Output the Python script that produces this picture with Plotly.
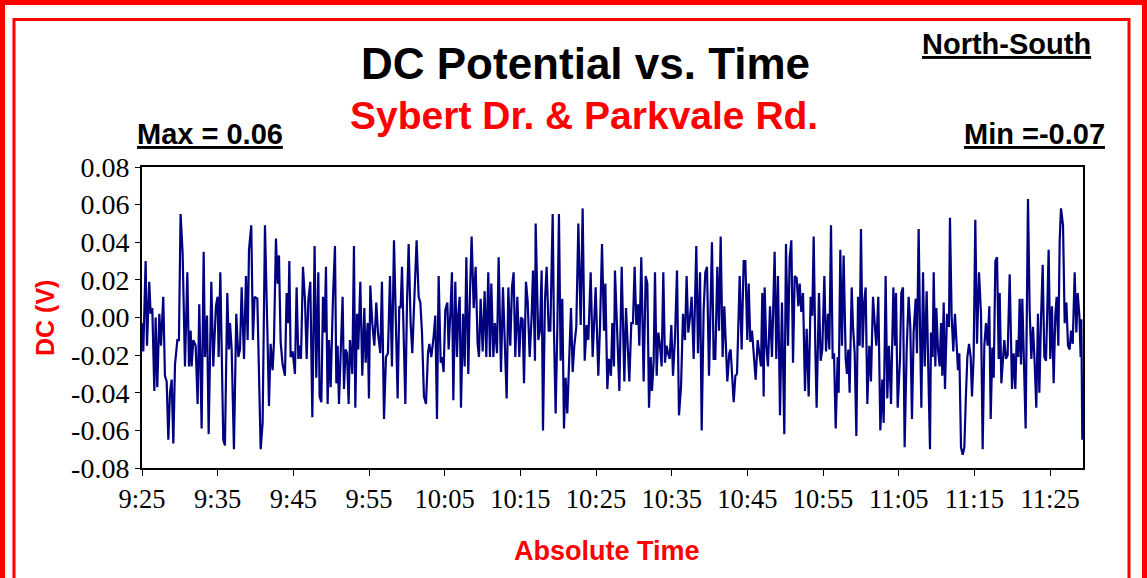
import plotly.graph_objects as go

# ---------------- data ----------------
x_tick_labels = ["9:25", "9:35", "9:45", "9:55", "10:05", "10:15", "10:25",
                 "10:35", "10:45", "10:55", "11:05", "11:15", "11:25"]
y_tick_values = [-0.08, -0.06, -0.04, -0.02, 0.00, 0.02, 0.04, 0.06, 0.08]
y_tick_labels = ["-0.08", "-0.06", "-0.04", "-0.02", "0.00", "0.02", "0.04", "0.06", "0.08"]

# time of each reading, minutes after 9:25
minutes_after_0925 = [
    0.04, 0.17, 0.48, 0.66, 0.96, 1.14, 1.36, 1.63, 1.80, 2.02, 2.29, 2.51, 2.81, 3.03, 3.26, 3.48, 3.70, 3.92, 4.14, 4.36, 4.67, 4.88,
    5.10, 5.37, 5.68, 5.99, 6.21, 6.43, 6.56, 6.78, 7.09, 7.35, 7.57, 7.88, 8.15, 8.32, 8.59, 8.81, 9.16, 9.42, 9.77, 9.99, 10.13, 10.35,
    10.74, 10.96, 11.27, 11.49, 11.63, 11.85, 12.15, 12.46, 12.73, 12.95, 13.17, 13.48, 13.74, 13.96, 14.14, 14.44, 14.66, 14.88, 15.24, 15.46, 15.68,
    15.94, 16.25, 16.56, 16.78, 17.00, 17.26, 17.44, 17.70, 17.92, 18.10, 18.32, 18.58, 18.89, 19.11, 19.33, 19.47, 19.64, 19.91, 20.21, 20.43, 20.66,
    20.83, 21.01, 21.27, 21.54, 21.76, 21.98, 22.24, 22.51, 22.81, 23.03, 23.30, 23.47, 23.70, 23.92, 24.14, 24.31, 24.53, 24.71, 24.93, 25.24, 25.50, 25.68, 25.85,
    26.03, 26.29, 26.51, 26.69, 26.91, 27.09, 27.31, 27.48, 27.79, 28.01, 28.19, 28.41, 28.58, 28.85, 29.11, 29.38, 29.55, 29.82, 29.99, 30.17, 30.43, 30.70, 30.96, 31.18,
    31.49, 31.71, 31.98, 32.24, 32.50, 32.77, 33.03, 33.30, 33.56, 33.78, 34.00, 34.18, 34.36, 34.58, 34.80, 35.02, 35.24, 35.50, 35.72, 35.98, 36.29, 36.56,
    36.78, 37.00, 37.26, 37.53, 37.79, 37.97, 38.23, 38.54, 38.76, 38.98, 39.20, 39.47, 39.64, 39.86, 40.08, 40.35, 40.52, 40.79, 40.96, 41.14, 41.40, 41.62,
    41.80, 41.98, 42.15, 42.42, 42.64, 42.86, 43.12, 43.34, 43.56, 43.83, 44.09, 44.35, 44.53, 44.75, 45.02, 45.28, 45.50, 45.76, 45.98, 46.16, 46.43, 46.64, 46.91,
    47.13, 47.44, 47.70, 47.92, 48.19, 48.41, 48.67, 48.89, 49.11, 49.33, 49.60, 49.86, 50.08, 50.30, 50.48, 50.74, 50.96, 51.23, 51.49, 51.67, 51.93, 52.02,
    52.37, 52.59, 52.81, 52.99, 53.25, 53.47, 53.74, 53.96, 54.27, 54.44, 54.66, 54.88, 55.10, 55.32, 55.54, 55.76, 55.98, 56.20, 56.47, 56.69, 56.91, 57.13,
    57.39, 57.66, 57.97, 58.23, 58.50, 58.76, 58.98, 59.29, 59.55, 59.95, 60.30, 60.52, 60.79, 61.05, 61.23, 61.49, 61.71, 61.97, 62.15, 62.37, 62.50,
    62.86, 63.08, 63.39, 63.74, 63.96, 64.18, 64.40, 64.66, 64.88, 65.10, 65.32, 65.54, 65.72, 65.98, 66.29, 66.56, 66.78, 67.00, 67.22, 67.39, 67.61, 67.79,
    68.01, 68.23, 68.45, 68.67, 68.89, 69.11, 69.33, 69.51, 69.73, 69.95, 70.17, 70.43, 70.70, 70.96, 71.23, 71.49, 71.75, 71.97, 72.19, 72.46, 72.63, 72.90,
    73.25, 73.47, 73.74, 73.96, 74.22, 74.44, 74.66, 74.93, 75.15, 75.32, 75.54, 75.76, 76.03, 76.25, 76.47, 76.73, 76.95, 77.17, 77.35, 77.61, 77.79, 77.97, 78.19,
    78.41, 78.63, 78.80, 78.98, 79.24, 79.51, 79.73, 79.99, 80.17, 80.39, 80.61, 80.83, 81.09, 81.36, 81.62, 81.80, 81.97, 82.15, 82.28, 82.50, 82.72, 82.99, 83.25,
    83.60, 83.82, 84.04, 84.31, 84.57, 84.88, 85.10, 85.37, 85.59, 85.81, 86.03, 86.25, 86.51, 86.73, 86.91, 87.13, 87.35, 87.61, 87.83, 88.10, 88.36, 88.58, 88.76,
    88.98, 89.15, 89.46, 89.68, 89.90, 90.17, 90.39, 90.65, 90.83, 91.05, 91.27, 91.45, 91.67, 91.93, 92.06, 92.28, 92.50, 92.72, 92.99, 93.16, 93.34, 93.51, 93.78,
    93.96, 94.18, 94.40, 94.62, 94.84, 95.01, 95.23, 95.45, 95.63, 95.85, 96.11, 96.33, 96.60, 96.82, 97.04, 97.30, 97.57, 97.83, 98.01, 98.27, 98.49, 98.71, 98.98, 99.29,
    99.51, 99.64, 99.86, 100.17, 100.34, 100.56, 100.78, 101.05, 101.31, 101.53, 101.75, 101.97, 102.24, 102.41, 102.63, 102.85, 102.99, 103.21, 103.43, 103.69, 103.91, 104.13, 104.26,
    104.48, 104.62, 104.84, 104.97, 105.19, 105.41, 105.59, 105.76, 105.94, 106.11, 106.38, 106.64, 106.77, 106.99, 107.21, 107.43, 107.61, 107.83, 108.01, 108.23, 108.45, 108.67, 108.89, 109.07, 109.29,
    109.51, 109.68, 109.90, 110.12, 110.34, 110.61, 110.87, 111.09, 111.31, 111.53, 111.75, 111.97, 112.15, 112.37, 112.55, 112.77, 112.99, 113.21, 113.34, 113.56, 113.78, 113.95, 114.17, 114.39, 114.66,
    114.97, 115.19, 115.41, 115.58, 115.80, 115.98, 116.16, 116.33, 116.55, 116.77, 117.08, 117.30, 117.52, 117.74, 117.96, 118.18, 118.40, 118.58, 118.80, 119.02, 119.24, 119.46, 119.64,
    119.81, 120.03, 120.25, 120.47, 120.69, 120.87, 121.09, 121.27, 121.44, 121.71, 121.93, 122.15, 122.37, 122.59, 122.77, 122.99, 123.25, 123.47, 123.65, 123.87, 124.04, 124.13, 124.26,
]

# DC potential of each reading, volts
dc_volts = [
    -0.003, -0.018, 0.030, -0.015, 0.019, 0.002, 0.005, -0.039, 0.000, -0.037, 0.002, -0.015, 0.011, -0.031, -0.034, -0.065, -0.040, -0.033, -0.067, -0.025, -0.012, -0.012,
    0.055, 0.034, -0.026, 0.024, -0.026, -0.007, -0.026, -0.012, -0.015, -0.046, 0.007, -0.059, 0.035, -0.021, 0.001, -0.062, 0.019, -0.026, 0.006, 0.011, -0.021, 0.024,
    -0.065, -0.068, 0.013, -0.017, -0.003, -0.017, -0.070, 0.002, -0.021, -0.017, 0.016, -0.022, 0.022, -0.012, 0.036, 0.049, -0.012, 0.011, 0.010, -0.024, -0.070,
    -0.056, 0.049, -0.006, -0.047, -0.014, -0.028, -0.013, 0.042, 0.018, 0.033, -0.013, -0.025, -0.031, 0.013, -0.003, 0.030, -0.021, -0.018, -0.030, 0.016, -0.022,
    -0.015, -0.022, 0.027, 0.009, -0.022, 0.009, 0.019, -0.053, 0.038, -0.032, 0.024, -0.042, -0.045, 0.011, -0.008, 0.027, -0.046, -0.012, -0.037, 0.011, 0.038, -0.035, -0.015,
    -0.046, -0.012, 0.011, -0.038, -0.017, -0.019, -0.046, -0.012, -0.030, 0.038, -0.048, 0.002, -0.017, 0.019, -0.031, 0.005, -0.024, -0.003, -0.043, 0.017, -0.003, -0.015, 0.008, -0.008,
    -0.019, 0.019, -0.054, -0.021, -0.019, 0.022, -0.026, 0.041, -0.003, -0.043, 0.006, 0.005, 0.027, -0.008, -0.046, 0.008, 0.039, -0.003, -0.019, 0.009, 0.041, 0.011,
    0.008, -0.008, -0.042, -0.046, -0.019, -0.014, -0.021, -0.010, 0.001, -0.054, 0.022, -0.024, -0.021, -0.029, 0.004, 0.008, -0.017, 0.006, 0.024, -0.044, 0.019, -0.021,
    0.002, 0.011, -0.048, 0.002, -0.026, 0.032, -0.030, 0.013, 0.043, 0.005, 0.027, -0.014, -0.021, 0.010, -0.018, 0.014, -0.021, 0.024, -0.021, 0.018, -0.021, -0.003, -0.019,
    0.032, -0.029, 0.016, -0.012, -0.043, 0.016, -0.015, 0.016, 0.024, -0.021, 0.011, -0.021, 0.000, -0.001, -0.035, 0.019, 0.009, -0.021, 0.001, 0.025, -0.023, 0.050,
    -0.012, -0.007, 0.025, -0.060, 0.009, 0.027, -0.007, -0.007, 0.055, -0.007, -0.051, -0.007, 0.055, -0.023, 0.010, -0.059, -0.032, -0.051, -0.021, 0.005, -0.029, -0.015,
    -0.005, 0.050, -0.004, 0.058, -0.023, -0.004, -0.012, 0.024, -0.021, 0.016, -0.031, -0.005, 0.039, -0.007, 0.018, -0.038, -0.022, -0.031, -0.003, -0.026, 0.025,
    -0.012, -0.039, 0.027, -0.034, 0.005, -0.019, -0.034, -0.003, -0.003, 0.027, -0.004, 0.007, -0.015, 0.032, -0.034, 0.022, 0.018, -0.048, -0.021, -0.039, -0.024, 0.024,
    -0.031, -0.008, -0.015, -0.026, 0.024, -0.024, -0.015, -0.019, -0.022, -0.004, -0.031, -0.011, 0.025, -0.052, -0.037, 0.002, -0.012, 0.022, -0.008, 0.002, 0.011, -0.022,
    0.038, -0.019, 0.024, -0.060, 0.004, 0.024, 0.027, -0.031, 0.013, 0.040, -0.022, -0.022, 0.027, -0.007, 0.043, -0.021, 0.006, -0.015, -0.034, -0.019, -0.017, -0.030, -0.045,
    -0.031, -0.030, -0.005, 0.022, -0.017, 0.030, 0.030, -0.012, 0.018, -0.013, -0.007, -0.021, -0.033, -0.012, -0.021, -0.026, 0.013, -0.042, 0.016, -0.015, -0.026, 0.006, -0.021,
    0.035, -0.022, 0.022, -0.052, 0.008, -0.062, 0.039, -0.015, 0.032, 0.041, -0.024, 0.022, 0.021, 0.006, 0.018, 0.003, 0.013, -0.039, -0.006, -0.042, 0.011, 0.001, 0.043,
    -0.017, -0.048, 0.013, -0.023, -0.017, 0.022, -0.018, 0.002, -0.017, 0.049, -0.022, -0.019, -0.059, -0.021, -0.040, 0.036, -0.015, 0.033, -0.022, -0.030, -0.017, -0.040, 0.016,
    -0.005, -0.019, -0.063, 0.011, -0.015, 0.047, -0.016, 0.009, 0.016, -0.046, -0.015, -0.034, 0.011, -0.003, -0.015, 0.011, -0.060, -0.033, -0.056, 0.022, -0.043, -0.015, -0.046, 0.016,
    -0.015, 0.013, -0.048, -0.022, 0.013, 0.016, -0.069, -0.017, 0.011, -0.005, -0.054, -0.008, 0.010, -0.019, 0.047, -0.015, -0.048, 0.024, -0.026, 0.014, -0.038, -0.070, -0.008,
    -0.021, 0.024, -0.026, 0.005, -0.017, -0.026, -0.003, -0.031, 0.008, -0.038, 0.002, -0.005, 0.053, 0.001, -0.018, 0.002, -0.015, -0.028, -0.019, -0.069, -0.073, -0.069, -0.040, -0.021, -0.014,
    -0.021, -0.042, -0.021, 0.052, -0.014, 0.024, 0.002, -0.070, -0.015, -0.003, -0.015, 0.006, -0.054, -0.016, -0.032, 0.030, 0.032, -0.022, 0.013, -0.035, -0.021, -0.012, -0.022, -0.020, 0.023,
    -0.038, -0.019, -0.038, -0.012, -0.021, 0.010, -0.025, 0.010, -0.021, -0.059, 0.063, 0.004, -0.022, -0.005, -0.024, -0.048, 0.002, -0.040, -0.001, 0.028, -0.021, -0.023, 0.006,
    0.036, -0.022, 0.006, -0.035, 0.001, 0.011, -0.015, 0.041, 0.058, 0.049, -0.003, 0.008, -0.015, -0.017, -0.007, -0.014, 0.024, -0.008, 0.013, 0.001, -0.021, -0.001, -0.065,
]

assert len(minutes_after_0925) == len(dc_volts)

# ---------------- derived ----------------
def clock_to_minutes(label):
    h, m = label.split(":")
    return int(h) * 60 + int(m) - (9 * 60 + 25)

x_tick_positions = [clock_to_minutes(s) for s in x_tick_labels]
max_text = f"Max = {max(dc_volts):.2f}"
min_text = f"Min ={min(dc_volts):.2f}"

# ---------------- layout helpers (pixel -> paper) ----------------
W, H = 1147, 578
PL, PR, PT, PB = 142, 1083, 167, 468


def px(x):
    return (x - PL) / (PR - PL)


def py(y):
    return (PB - y) / (PB - PT)


SANS = "Liberation Sans, Arial, sans-serif"
SERIF = "Liberation Serif, Times New Roman, serif"

fig = go.Figure()
fig.add_trace(go.Scatter(
    x=minutes_after_0925, y=dc_volts, mode="lines",
    line=dict(color="#000080", width=2.2), hoverinfo="skip", showlegend=False,
))

fig.update_layout(
    width=W, height=H,
    margin=dict(l=PL, r=W - PR, t=PT, b=H - PB, pad=0),
    paper_bgcolor="white", plot_bgcolor="white",
    showlegend=False,
    xaxis=dict(
        range=[0, 124.35], tickvals=x_tick_positions, ticktext=x_tick_labels,
        showgrid=False, zeroline=False, showline=True, linecolor="black", linewidth=2,
        mirror=True, ticks="outside", ticklen=6, tickcolor="black", tickwidth=1,
        tickfont=dict(family=SERIF, size=26.5, color="black"),
    ),
    yaxis=dict(
        range=[-0.08, 0.08], tickvals=y_tick_values, ticktext=y_tick_labels,
        showgrid=False, zeroline=False, showline=True, linecolor="black", linewidth=2,
        mirror=True, ticks="outside", ticklen=5, tickcolor="black", tickwidth=1,
        tickfont=dict(family=SERIF, size=28, color="black"),
    ),
)

# red double frame
fig.add_shape(type="rect", xref="paper", yref="paper",
              x0=px(2.5), x1=px(1144.5), y0=py(650), y1=py(2.5),
              line=dict(color="#FF0000", width=5), layer="above")
fig.add_shape(type="rect", xref="paper", yref="paper",
              x0=px(14), x1=px(1129), y0=py(650), y1=py(19.5),
              line=dict(color="#FF0000", width=3), layer="above")


def note(text, x, y, size, color="black", xanchor="center", angle=0):
    fig.add_annotation(text=text, x=px(x), y=py(y), xref="paper", yref="paper",
                       showarrow=False, xanchor=xanchor, yanchor="middle",
                       textangle=angle, font=dict(family=SANS, size=size, color=color))


note("<b>DC Potential vs. Time</b>", 585, 63.5, 44)
note("<b>Sybert Dr. & Parkvale Rd.</b>", 584, 115, 39, color="#FF0000")
note("<b><u>North-South</u></b>", 1093, 44, 29, xanchor="right")
note(f"<b><u>{max_text}</u></b>", 135, 133.5, 29, xanchor="left")
note(f"<b><u>{min_text}</u></b>", 1107, 133.5, 29, xanchor="right")
note("<b>DC (V)</b>", 45, 318, 25, color="#FF0000", angle=-90)
note("<b>Absolute Time</b>", 607, 551, 27, color="#FF0000")

fig.write_html(
    "out.html",
    config={"displayModeBar": False},
    post_script="document.body.style.margin='0';document.body.style.padding='0';"
                "document.documentElement.style.overflow='hidden';",
)
